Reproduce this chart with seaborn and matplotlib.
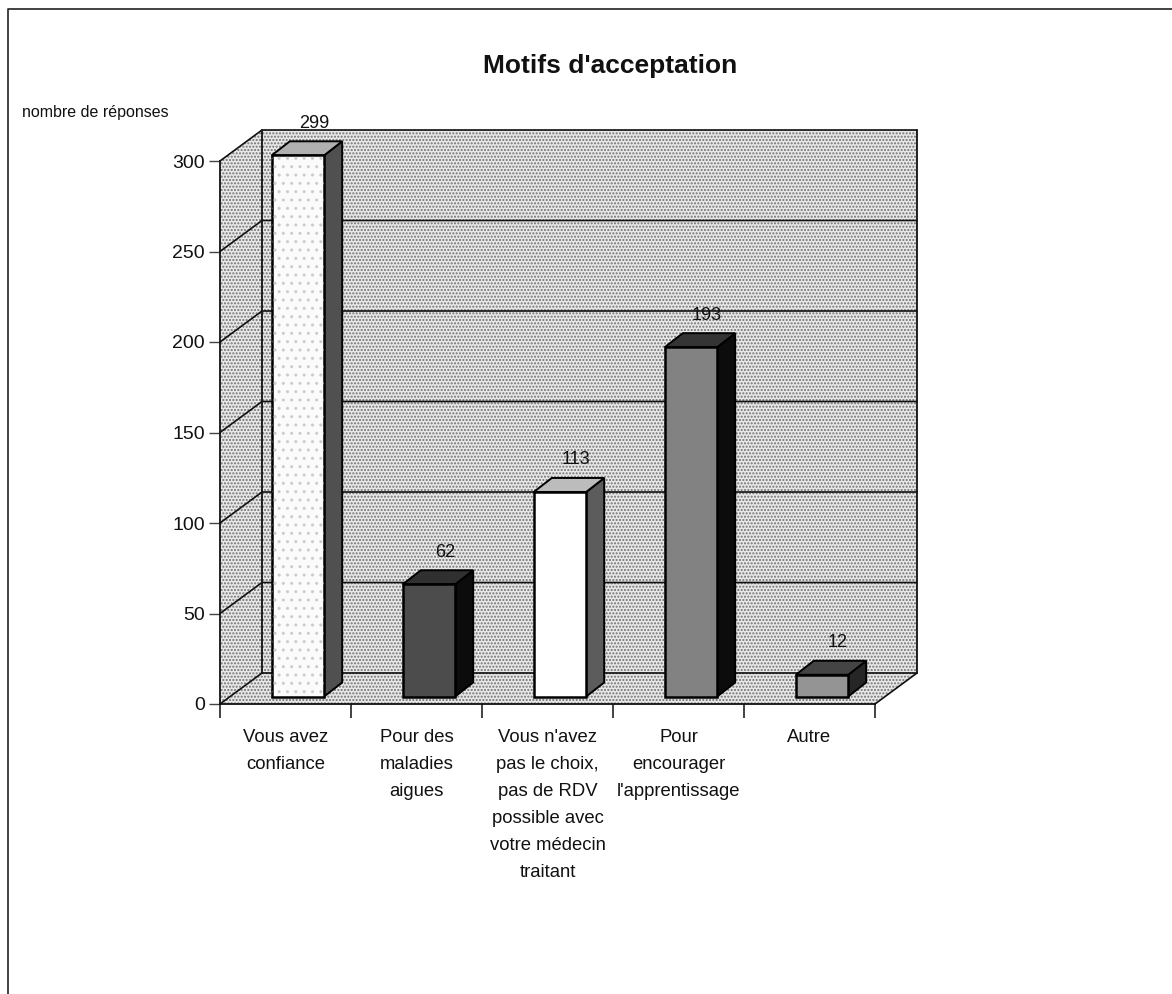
from matplotlib import pyplot as plt
from matplotlib.patches import Polygon
import matplotlib
import pandas as pd
import seaborn as sns

matplotlib.use('Agg')

# Donnees
categories = [
    "Vous avez\nconfiance",
    "Pour des\nmaladies\naigues",
    "Vous n'avez\npas le choix,\npas de RDV\npossible avec\nvotre médecin\ntraitant",
    "Pour\nencourager\nl'apprentissage",
    "Autre",
]
reponses = [299, 62, 113, 193, 12]
yticks = [0, 50, 100, 150, 200, 250, 300]

face_colors = ["#fbfbfb", "#4c4c4c", "#ffffff", "#828282", "#949494"]
side_colors = ["#505050", "#0c0c0c", "#5c5c5c", "#0c0c0c", "#262626"]
top_colors = ["#b0b0b0", "#303030", "#bcbcbc", "#343434", "#444444"]

WIDTH, HEIGHT = 1172, 994
PX_X = 131.0  # pixels par categorie
PX_Y = 543.0 / 300  # pixels par reponse

# decalages de profondeur, en unites de donnees
WALL_DX, WALL_DY = 42 / PX_X, 31 / PX_Y
BAR_SHIFT_X, BAR_SHIFT_Y = 12.5 / PX_X, 7.5 / PX_Y
BAR_DX, BAR_DY = 18 / PX_X, 14 / PX_Y

sns.set_theme(style="white")
plt.rcParams['font.family'] = ['Liberation Sans', 'DejaVu Sans']

fig = plt.figure(figsize=(WIDTH / 100, HEIGHT / 100), dpi=100)
ax = fig.add_axes([220 / WIDTH, 1 - 704 / HEIGHT, 655 / WIDTH, 543 / HEIGHT])
ax.patch.set_alpha(0)

df = pd.DataFrame({"categorie": categories, "reponses": reponses})
sns.barplot(
    data=df, x="categorie", y="reponses", hue="categorie", palette=face_colors,
    width=0.4, edgecolor="black", linewidth=1.8, saturation=1, legend=False, ax=ax,
)
ax.set_xlim(-0.5, 4.5)
ax.set_ylim(0, 300)


def wall(corners, zorder=0.4, hatch="....."):
    ax.add_patch(Polygon(corners, closed=True, facecolor="#e8e8e8", edgecolor="#707070",
                         linewidth=0, hatch=hatch, zorder=zorder, clip_on=False))


x0, x1 = ax.get_xlim()
y0, y1 = ax.get_ylim()

# Murs et sol en fausse 3D
wall([(x0 + WALL_DX, y0 + WALL_DY), (x1 + WALL_DX, y0 + WALL_DY),
      (x1 + WALL_DX, y1 + WALL_DY), (x0 + WALL_DX, y1 + WALL_DY)])
wall([(x0, y0), (x0 + WALL_DX, y0 + WALL_DY), (x0 + WALL_DX, y1 + WALL_DY), (x0, y1)])
wall([(x0, y0), (x1, y0), (x1 + WALL_DX, y0 + WALL_DY), (x0 + WALL_DX, y0 + WALL_DY)])

# Grille du fond et du mur gauche
for t in yticks:
    ax.plot([x0, x0 + WALL_DX, x1 + WALL_DX], [t, t + WALL_DY, t + WALL_DY],
            color="#111111", lw=1.2, zorder=0.6, clip_on=False)
ax.plot([x0 + WALL_DX, x0 + WALL_DX], [y0 + WALL_DY, y1 + WALL_DY],
        color="#111111", lw=1.3, zorder=0.6, clip_on=False)
ax.plot([x1 + WALL_DX, x1 + WALL_DX], [y0 + WALL_DY, y1 + WALL_DY],
        color="#111111", lw=1.3, zorder=0.6, clip_on=False)
ax.plot([x1, x1 + WALL_DX], [y0, y0 + WALL_DY],
        color="#111111", lw=1.2, zorder=0.6, clip_on=False)

# Faces laterales et superieures de chaque barre
for i, patch in enumerate(ax.patches[:len(reponses)]):
    patch.set_x(patch.get_x() + BAR_SHIFT_X)
    patch.set_y(patch.get_y() + BAR_SHIFT_Y)
    patch.set_clip_on(False)
    patch.set_zorder(3)
    left = patch.get_x()
    right = left + patch.get_width()
    bottom = patch.get_y()
    top = bottom + patch.get_height()
    ax.add_patch(Polygon(
        [(right, bottom), (right + BAR_DX, bottom + BAR_DY), (right + BAR_DX, top + BAR_DY), (right, top)],
        closed=True, facecolor=side_colors[i], edgecolor="black", linewidth=1.4, zorder=2.8, clip_on=False))
    ax.add_patch(Polygon(
        [(left, top), (right, top), (right + BAR_DX, top + BAR_DY), (left + BAR_DX, top + BAR_DY)],
        closed=True, facecolor=top_colors[i], edgecolor="black", linewidth=1.4, zorder=2.8, clip_on=False))
    ax.annotate(str(reponses[i]), xy=((left + right) / 2, top), xytext=(16, 32),
                textcoords="offset pixels", ha="center", va="center", fontsize=13,
                color="#111111", zorder=0.5, annotation_clip=False)

# pointilles clairs sur la premiere barre
first = ax.patches[0]
ax.add_patch(Polygon(
    [(first.get_x(), first.get_y()), (first.get_x() + first.get_width(), first.get_y()),
     (first.get_x() + first.get_width(), first.get_y() + first.get_height()),
     (first.get_x(), first.get_y() + first.get_height())],
    closed=True, facecolor="none", edgecolor="#cccccc", linewidth=0, hatch="..", zorder=3.1, clip_on=False))

# Axes
sns.despine(ax=ax, top=True, right=True)
for side in ["left", "bottom"]:
    ax.spines[side].set_linewidth(1.3)
    ax.spines[side].set_color("#111111")
    ax.spines[side].set_zorder(2)
ax.set_xlabel("")
ax.set_ylabel("")
ax.set_yticks(yticks)
ax.tick_params(axis="y", left=True, length=8, width=1, color="#444444", pad=3,
               labelsize=14, labelcolor="#111111")

# traits aux limites des categories, textes au centre
ax.set_xticks([i - 0.5 for i in range(len(categories) + 1)])
ax.set_xticklabels([])
ax.set_xticks(range(len(categories)), labels=categories, minor=True)
ax.tick_params(axis="x", which="major", bottom=True, length=10, width=1.2, color="#222222")
ax.tick_params(axis="x", which="minor", bottom=False, length=0, pad=18, labelsize=13.3, labelcolor="#111111")
for label in ax.get_xticklabels(minor=True):
    label.set_linespacing(1.77)
    label.set_horizontalalignment("center")

fig.text(610 / WIDTH, 1 - 66 / HEIGHT, "Motifs d'acceptation", ha="center", va="center",
         fontsize=19, fontweight="bold", color="#111111")
fig.text(22 / WIDTH, 1 - 113 / HEIGHT, "nombre de réponses", ha="left", va="center",
         fontsize=11.5, color="#111111")

# Cadre de la page scannee
fig.add_artist(plt.Line2D([8 / WIDTH, 8 / WIDTH, 1], [0, 1 - 9 / HEIGHT, 1 - 9 / HEIGHT],
                          color="#222222", lw=1.2))

fig.savefig("out.png", dpi=100)
